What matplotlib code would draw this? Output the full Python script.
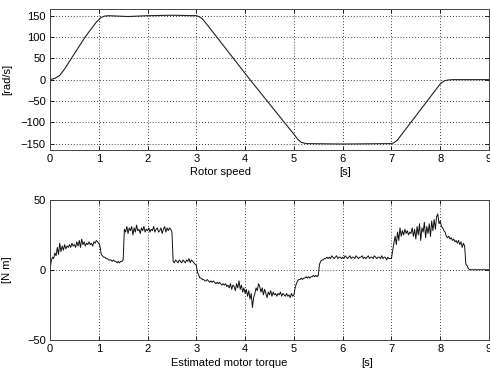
import numpy as np
import matplotlib
matplotlib.use("Agg")
import matplotlib.pyplot as plt

plt.rcParams['font.family'] = ['Liberation Sans', 'DejaVu Sans']

# Rotor speed [rad/s] breakpoints
speed_t = [0, 0.1, 0.2, 0.3, 0.44, 0.72, 0.95, 1.05, 1.12, 1.2, 1.6, 2.0, 2.5, 3.0,
           3.05, 3.12, 3.2, 4.1, 5.0, 5.08, 5.15, 5.25, 6.0, 7.0, 7.05, 7.12, 7.2,
           8.0, 8.08, 8.15, 8.25, 9.0]
speed_v = [0, 3, 10, 25, 50, 100, 135, 146, 149, 150, 148, 150, 151, 150,
           148, 143, 132, 0, -128, -140, -147, -150, -151, -150, -148, -142, -130,
           -10, -3, -1, 0, 0]

# Estimated motor torque [N m], sampled every 0.025 s from 0 to 9 s
torque = [
    0, 6, 9, 8, 12, 10, 16, 11, 19, 13, 17, 14, 18, 15, 17, 16, 18, 16, 19, 17,
    18, 16, 20, 17, 21, 16, 22, 18, 20, 17, 19, 18, 20, 18, 19, 17, 20, 19, 21, 20,
    19, 17, 11, 10, 9, 9, 8, 8, 7, 7, 7, 6, 7, 6, 6, 5, 6, 5, 6, 6,
    7, 29, 27, 31, 26, 30, 28, 31, 25, 30, 27, 32, 28, 29, 26, 30, 28, 31, 27, 29,
    28, 30, 27, 29, 28, 31, 27, 29, 30, 27, 28, 30, 26, 29, 31, 27, 30, 28, 30, 29,
    27, 6, 5, 7, 6, 5, 7, 6, 5, 7, 6, 5, 7, 6, 8, 5, 7, 6, 5, 4,
    3, -2, -4, -6, -6, -7, -7, -8, -8, -7, -8, -9, -8, -9, -8, -9, -10, -9, -10, -9,
    -10, -11, -10, -11, -10, -12, -11, -13, -10, -14, -11, -12, -15, -10, -13, -8, -14, -11, -16, -13,
    -17, -14, -19, -15, -21, -17, -27, -20, -17, -13, -15, -10, -12, -16, -13, -18, -14, -17, -20, -16,
    -18, -15, -19, -16, -18, -17, -19, -17, -18, -16, -19, -17, -18, -19, -17, -19, -18, -20, -17, -19,
    -18, -13, -10, -8, -7, -7, -6, -7, -6, -6, -5, -6, -5, -6, -5, -5, -4, -5, -4, -5,
    -4, 4, 6, 7, 7, 8, 8, 9, 8, 9, 8, 10, 9, 8, 9, 10, 8, 9, 9, 8,
    9, 8, 10, 9, 8, 9, 10, 8, 9, 9, 8, 10, 9, 8, 9, 9, 10, 8, 9, 8,
    9, 10, 8, 9, 9, 8, 10, 9, 8, 9, 9, 8, 10, 8, 9, 9, 7, 9, 8, 8,
    8, 14, 19, 24, 18, 27, 21, 30, 24, 28, 25, 29, 26, 28, 25, 27, 26, 30, 24, 29,
    22, 31, 25, 33, 21, 30, 27, 34, 23, 31, 26, 33, 24, 35, 28, 36, 29, 38, 40, 33,
    35, 31, 30, 28, 27, 24, 23, 24, 22, 23, 21, 22, 20, 21, 19, 21, 18, 20, 16, 19,
    17, 4, 3, 1, 0, 0, 0, 0, 0, 0, 0, 0, 0, 0, 0, 0, 0, 0, 0, 0,
    0,
]
torque_t = np.linspace(0, 9, len(torque))

xticks = [0, 1, 2, 3, 4, 5, 6, 7, 8, 9]
speed_yticks = [-150, -100, -50, 0, 50, 100, 150]
torque_yticks = [-50, 0, 50]

fig = plt.figure(figsize=(4.9, 3.7), dpi=100)
ax1 = fig.add_axes([0.102, 0.5946, 0.896, 0.3803])
ax2 = fig.add_axes([0.102, 0.0824, 0.896, 0.3771])

def style(ax, yticks, ylim):
    ax.set_xlim(0, 9)
    ax.set_ylim(*ylim)
    ax.set_xticks(xticks)
    ax.set_yticks(yticks)
    ax.tick_params(direction='in', length=3, width=0.6, labelsize=8,
                   top=True, right=True, pad=3, colors='black')
    ax.grid(True, linestyle=(0, (1, 2.5)), color='black', linewidth=0.6)
    for s in ax.spines.values():
        s.set_linewidth(0.7)
        s.set_color('#444444')

ax1.plot(speed_t, speed_v, color='#222222', linewidth=0.8)
style(ax1, speed_yticks, (-165, 165))
ax1.set_ylabel('[rad/s]', fontsize=8)
ax1.yaxis.set_label_coords(-0.087, 0.5)

ax2.plot(torque_t, torque, color='#111111', linewidth=0.7)
style(ax2, torque_yticks, (-50, 50))
ax2.set_ylabel('[N m]', fontsize=8)
ax2.yaxis.set_label_coords(-0.087, 0.5)

fig.text(0.449, 0.535, 'Rotor speed', ha='center', va='center', fontsize=8)
fig.text(0.704, 0.535, '[s]', ha='center', va='center', fontsize=8)
fig.text(0.467, 0.019, 'Estimated motor torque', ha='center', va='center', fontsize=8)
fig.text(0.749, 0.019, '[s]', ha='center', va='center', fontsize=8)

fig.savefig('out.png', dpi=100)
